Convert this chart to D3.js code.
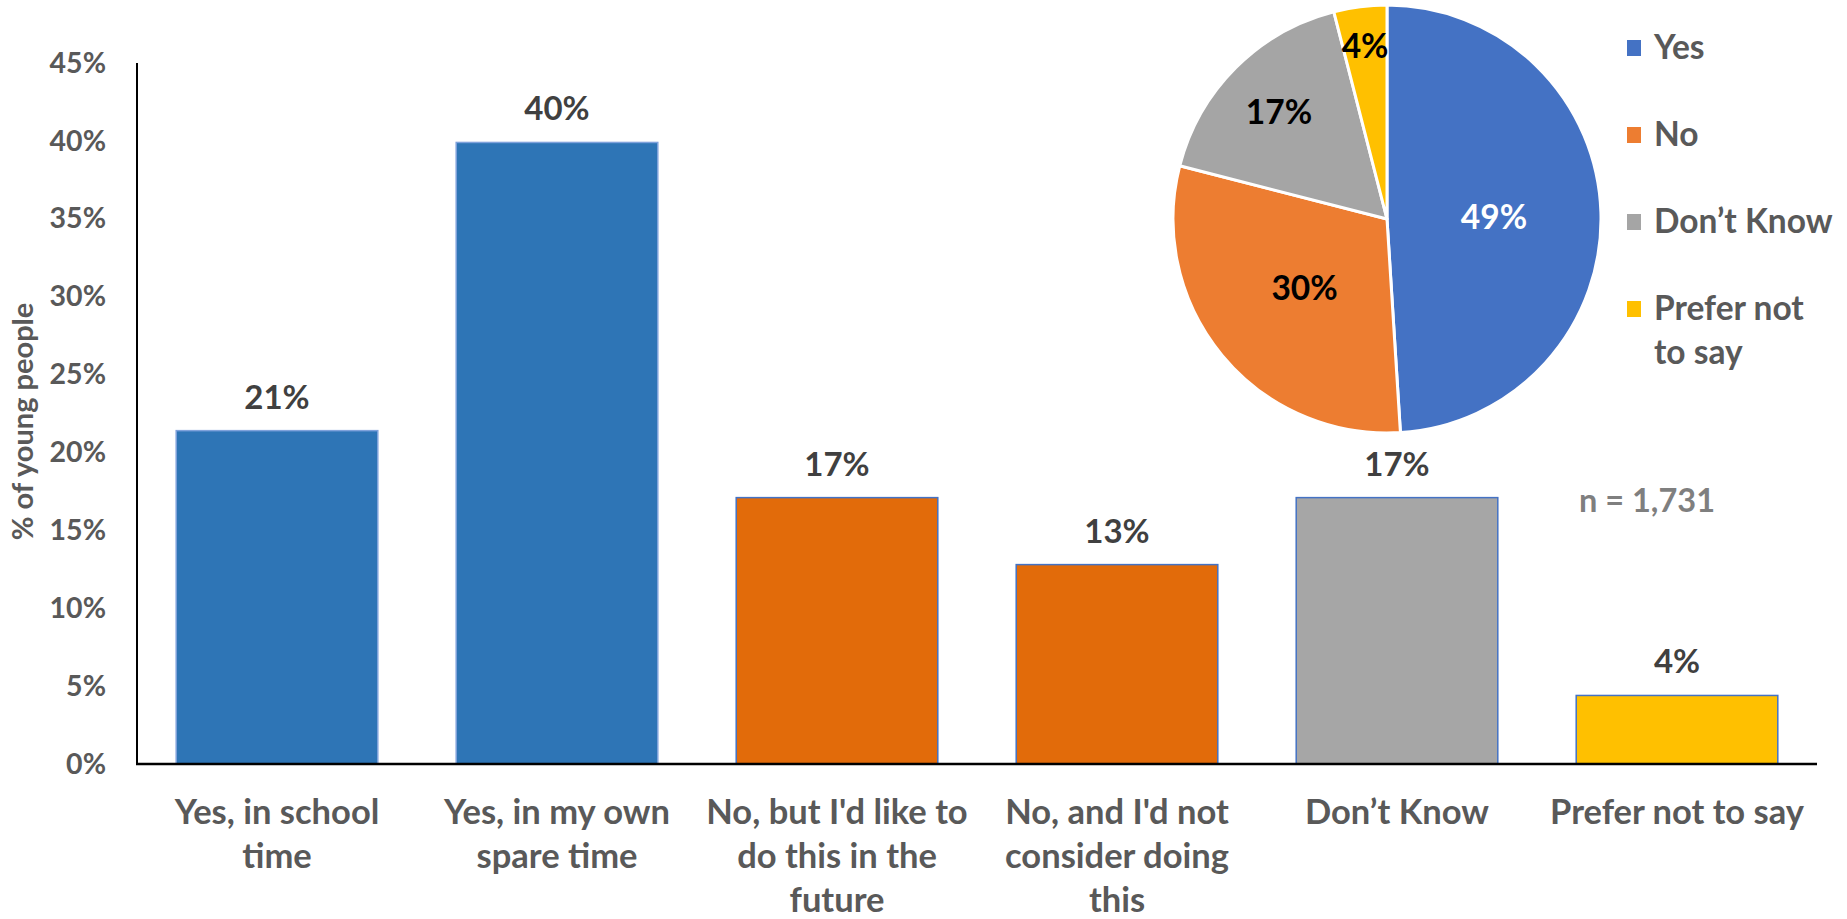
<!DOCTYPE html>
<html>
<head>
<meta charset="utf-8">
<script src="https://cdn.jsdelivr.net/npm/d3@7"></script>
<style>
  html, body { margin: 0; padding: 0; background: #fff; }
  svg { display: block; font-family: Lato, "Open Sans", sans-serif; font-weight: 700; }
</style>
</head>
<body>
<svg id="chart" width="1847" height="919"></svg>
<script>
// Bar chart: did young people take part, split by when
const categories = [
  "Yes, in school\ntime",
  "Yes, in my own\nspare time",
  "No, but I'd like to\ndo this in the\nfuture",
  "No, and I'd not\nconsider doing\nthis",
  "Don’t Know",
  "Prefer not to say"
];
const barValues = [0.214, 0.399, 0.171, 0.128, 0.171, 0.044];
const yTicks = [0, 0.05, 0.10, 0.15, 0.20, 0.25, 0.30, 0.35, 0.40, 0.45];

// Pie chart: overall answer
const pieLabels = ["Yes", "No", "Don’t Know", "Prefer not to say"];
const pieValues = [0.49, 0.30, 0.17, 0.04];
const sampleNote = "n = 1,731";

// Styles
const barFill = ["#2E75B6", "#2E75B6", "#E26B0A", "#E26B0A", "#A6A6A6", "#FFC000"];
const barStroke = ["#7FA2DC", "#7FA2DC", "#4472C4", "#4472C4", "#4472C4", "#4472C4"];
const pieFill = ["#4472C4", "#ED7D31", "#A5A5A5", "#FFC000"];
const pieText = ["#ffffff", "#000000", "#000000", "#000000"];
const legendLines = [["Yes"], ["No"], ["Don’t Know"], ["Prefer not", "to say"]];

const svg = d3.select("#chart");

const x = d3.scaleBand()
  .domain(categories)
  .range([137, 1817])
  .paddingInner(0.28)
  .paddingOuter(0.14);

const y = d3.scaleLinear()
  .domain([0, 0.45])
  .range([764, 63]);

// Y axis tick labels
const yAxis = d3.axisLeft(y)
  .tickValues(yTicks)
  .tickFormat(d3.format(".0%"))
  .tickSize(0)
  .tickPadding(31);
const gy = svg.append("g").attr("transform", "translate(137,0)").call(yAxis);
gy.select(".domain").remove();
gy.selectAll("text")
  .attr("fill", "#595959")
  .style("font-size", "28.5px")
  .style("font-family", "Lato, sans-serif")
  .style("font-weight", 700);

// Y axis title
svg.append("text")
  .attr("transform", `translate(33,${(y(0) + y(0.45)) / 2 + 8}) rotate(-90)`)
  .attr("text-anchor", "middle")
  .attr("fill", "#595959")
  .style("font-size", "29px")
  .text("% of young people");

// Bars
svg.append("g").selectAll("rect")
  .data(barValues)
  .join("rect")
  .attr("x", (d, i) => x(categories[i]))
  .attr("y", d => y(d))
  .attr("width", x.bandwidth())
  .attr("height", d => y(0) - y(d))
  .attr("fill", (d, i) => barFill[i])
  .attr("stroke", (d, i) => barStroke[i])
  .attr("stroke-width", 1.5);

// Value labels on bars
svg.append("g").selectAll("text")
  .data(barValues)
  .join("text")
  .attr("x", (d, i) => x(categories[i]) + x.bandwidth() / 2)
  .attr("y", d => y(d) - 22)
  .attr("text-anchor", "middle")
  .attr("fill", "#404040")
  .style("font-size", "33px")
  .text(d => d3.format(".0%")(d));

// Axis lines
svg.append("line")
  .attr("x1", 137).attr("x2", 137)
  .attr("y1", y(0.45)).attr("y2", y(0) + 1)
  .attr("stroke", "#000").attr("stroke-width", 2);
svg.append("line")
  .attr("x1", 136).attr("x2", 1817)
  .attr("y1", y(0)).attr("y2", y(0))
  .attr("stroke", "#000").attr("stroke-width", 2.5);

// Category labels, wrapped on explicit breaks
const catG = svg.append("g");
categories.forEach(c => {
  const t = catG.append("text")
    .attr("text-anchor", "middle")
    .attr("fill", "#595959")
    .style("font-size", "34.5px");
  c.split("\n").forEach((line, k) => {
    t.append("tspan")
      .attr("x", x(c) + x.bandwidth() / 2)
      .attr("y", 824 + k * 44)
      .text(line);
  });
});

// Pie
const cx = 1387, cy = 219, r = 214;
const pie = d3.pie().sort(null).value(d => d);
const arcs = pie(pieValues);
const arc = d3.arc().innerRadius(0).outerRadius(r);
const pg = svg.append("g").attr("transform", `translate(${cx},${cy})`);
pg.selectAll("path")
  .data(arcs)
  .join("path")
  .attr("d", arc)
  .attr("fill", (d, i) => pieFill[i])
  .attr("stroke", "#fff")
  .attr("stroke-width", 3)
  .attr("stroke-linejoin", "round");

// Large slices get their label mid-radius, small ones further out
pg.selectAll("text")
  .data(arcs)
  .join("text")
  .each(function (d, i) {
    const frac = d.data >= 0.25 ? 0.5 : 0.85 - d.data * 0.8;
    const a = (d.startAngle + d.endAngle) / 2;
    d3.select(this)
      .attr("x", Math.sin(a) * r * frac)
      .attr("y", -Math.cos(a) * r * frac)
      .attr("fill", pieText[i]);
  })
  .attr("text-anchor", "middle")
  .attr("dominant-baseline", "central")
  .style("font-size", "33.5px")
  .text(d => d3.format(".0%")(d.data));

// Legend
const lg = svg.append("g");
pieLabels.forEach((name, i) => {
  const cyL = 48 + i * 87;
  lg.append("rect")
    .attr("x", 1627).attr("y", cyL - 8)
    .attr("width", 14).attr("height", 16)
    .attr("fill", pieFill[i]);
  const t = lg.append("text")
    .attr("fill", "#595959")
    .style("font-size", "33.5px");
  legendLines[i].forEach((line, k) => {
    t.append("tspan")
      .attr("x", 1654)
      .attr("y", cyL + 11 + k * 44)
      .text(line);
  });
});

// Sample size note
svg.append("text")
  .attr("x", 1579)
  .attr("y", 512)
  .attr("fill", "#7F7F7F")
  .style("font-size", "32.5px")
  .text(sampleNote);
</script>
</body>
</html>
